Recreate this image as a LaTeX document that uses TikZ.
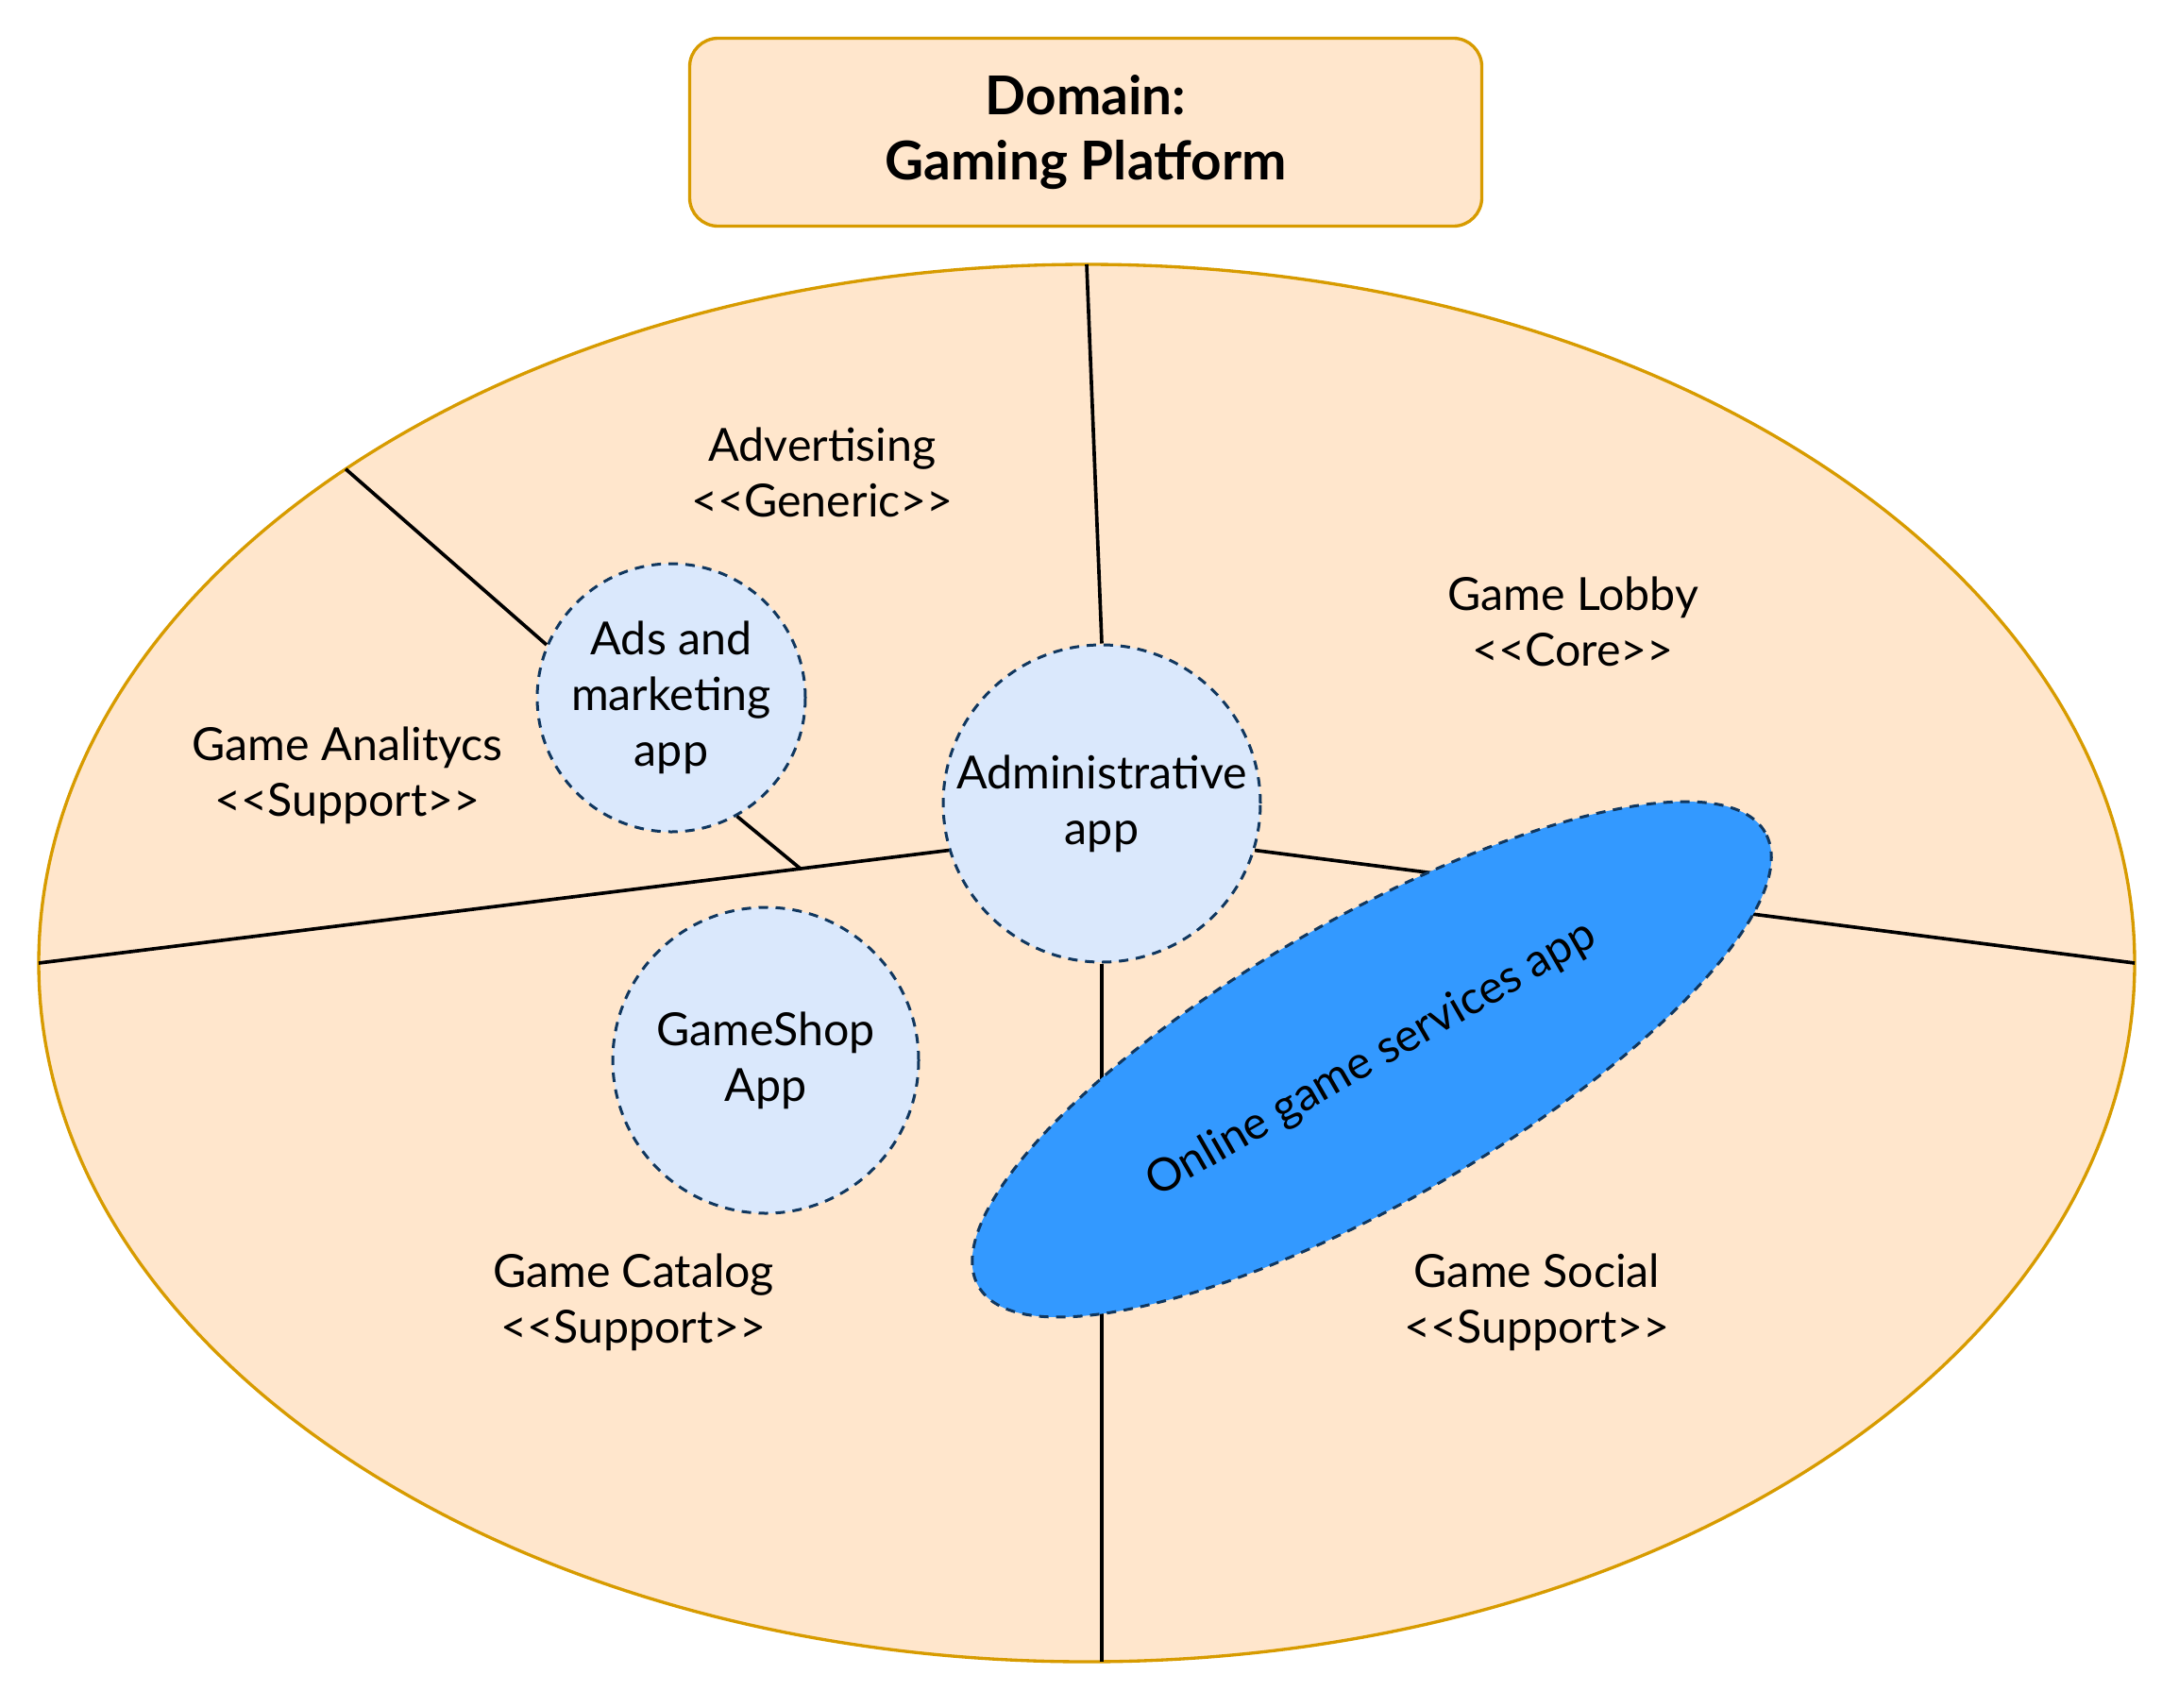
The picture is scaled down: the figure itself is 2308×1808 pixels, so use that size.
\documentclass[tikz,border=0pt]{standalone}
\usepackage{fontspec}
\setmainfont{Lato}
\usetikzlibrary{shapes.geometric,calc}
\definecolor{peach}{HTML}{FFE6CC}
\definecolor{amber}{HTML}{D79B00}
\definecolor{paleblue}{HTML}{DAE8FC}
\definecolor{navy}{HTML}{10375F}
\definecolor{brightblue}{HTML}{3399FF}
\newcommand{\stereo}[1]{<\kern0pt<#1>\kern0pt>}

\begin{document}
\begin{tikzpicture}[
    x=0.3pt, y=-0.3pt,
    every node/.style={font=\fontsize{14.5}{17.7}\selectfont, align=center, inner sep=1pt},
    titlebox/.style={draw=amber, fill=peach, line width=1pt, rounded corners=9pt, minimum width=251.7pt, minimum height=59.7pt, font=\fontsize{17}{20.8}\selectfont\bfseries},
    domainarea/.style={draw=amber, fill=peach, line width=1pt, ellipse, minimum width=666pt, minimum height=444pt},
    appcircle/.style={circle, draw=navy, fill=paleblue, line width=0.9pt, dash pattern=on 3pt off 2.4pt},
    onlineapp/.style={ellipse, draw=navy, fill=brightblue, line width=0.9pt, dash pattern=on 3pt off 2.4pt, minimum width=288.6pt, minimum height=89.4pt, rotate=30},
    splitline/.style={line width=1.1pt, black}
]
\useasboundingbox (0,0) rectangle (2308,1808);

\node[titlebox] (title) at (1150,140) {Domain:\\Gaming Platform};
\node[domainarea] (platform) at (1151,1020) {};

% subdomain labels
\node (advertising) at (871,500) {Advertising\\\stereo{Generic}};
\node (lobby) at (1666,658) {Game Lobby\\\stereo{Core}};
\node (analytics) at (368,821) {Game Analitycs\\\stereo{Support}};
\node (catalog) at (671,1379) {Game Catalog\\\stereo{Support}};
\node (social) at (1628,1379) {Game Social\\\stereo{Support}};

% applications
\node[appcircle, minimum size=85.2pt] (ads) at (711,739) {Ads and\\marketing\\app};
\node[appcircle, minimum size=100.8pt] (admin) at (1167,851) {Administrative\\app};
\node[appcircle, minimum size=97.2pt] (shop) at (811,1123) {GameShop\\App};

% borders between subdomains
\coordinate (north) at (1151,280);
\coordinate (west) at (41,1020);
\coordinate (east) at (2261,1020);
\coordinate (south) at (1167,1760);
\coordinate (northwest) at ($(platform.center)+(135:1110 and -740)$);
\coordinate (fork) at ($(west)!0.837!(admin.197)$);

\draw[splitline] (north) -- (admin.north);
\draw[splitline] (west) -- (admin.197);
\draw[splitline] (admin.-17) -- (east);
\draw[splitline] (admin.south) -- (south);
\draw[splitline] (northwest) -- (ads.157);
\draw[splitline] (ads.-61) -- (fork);

\node[onlineapp] (online) at (1453,1122) {Online game services app};
\end{tikzpicture}
\end{document}
